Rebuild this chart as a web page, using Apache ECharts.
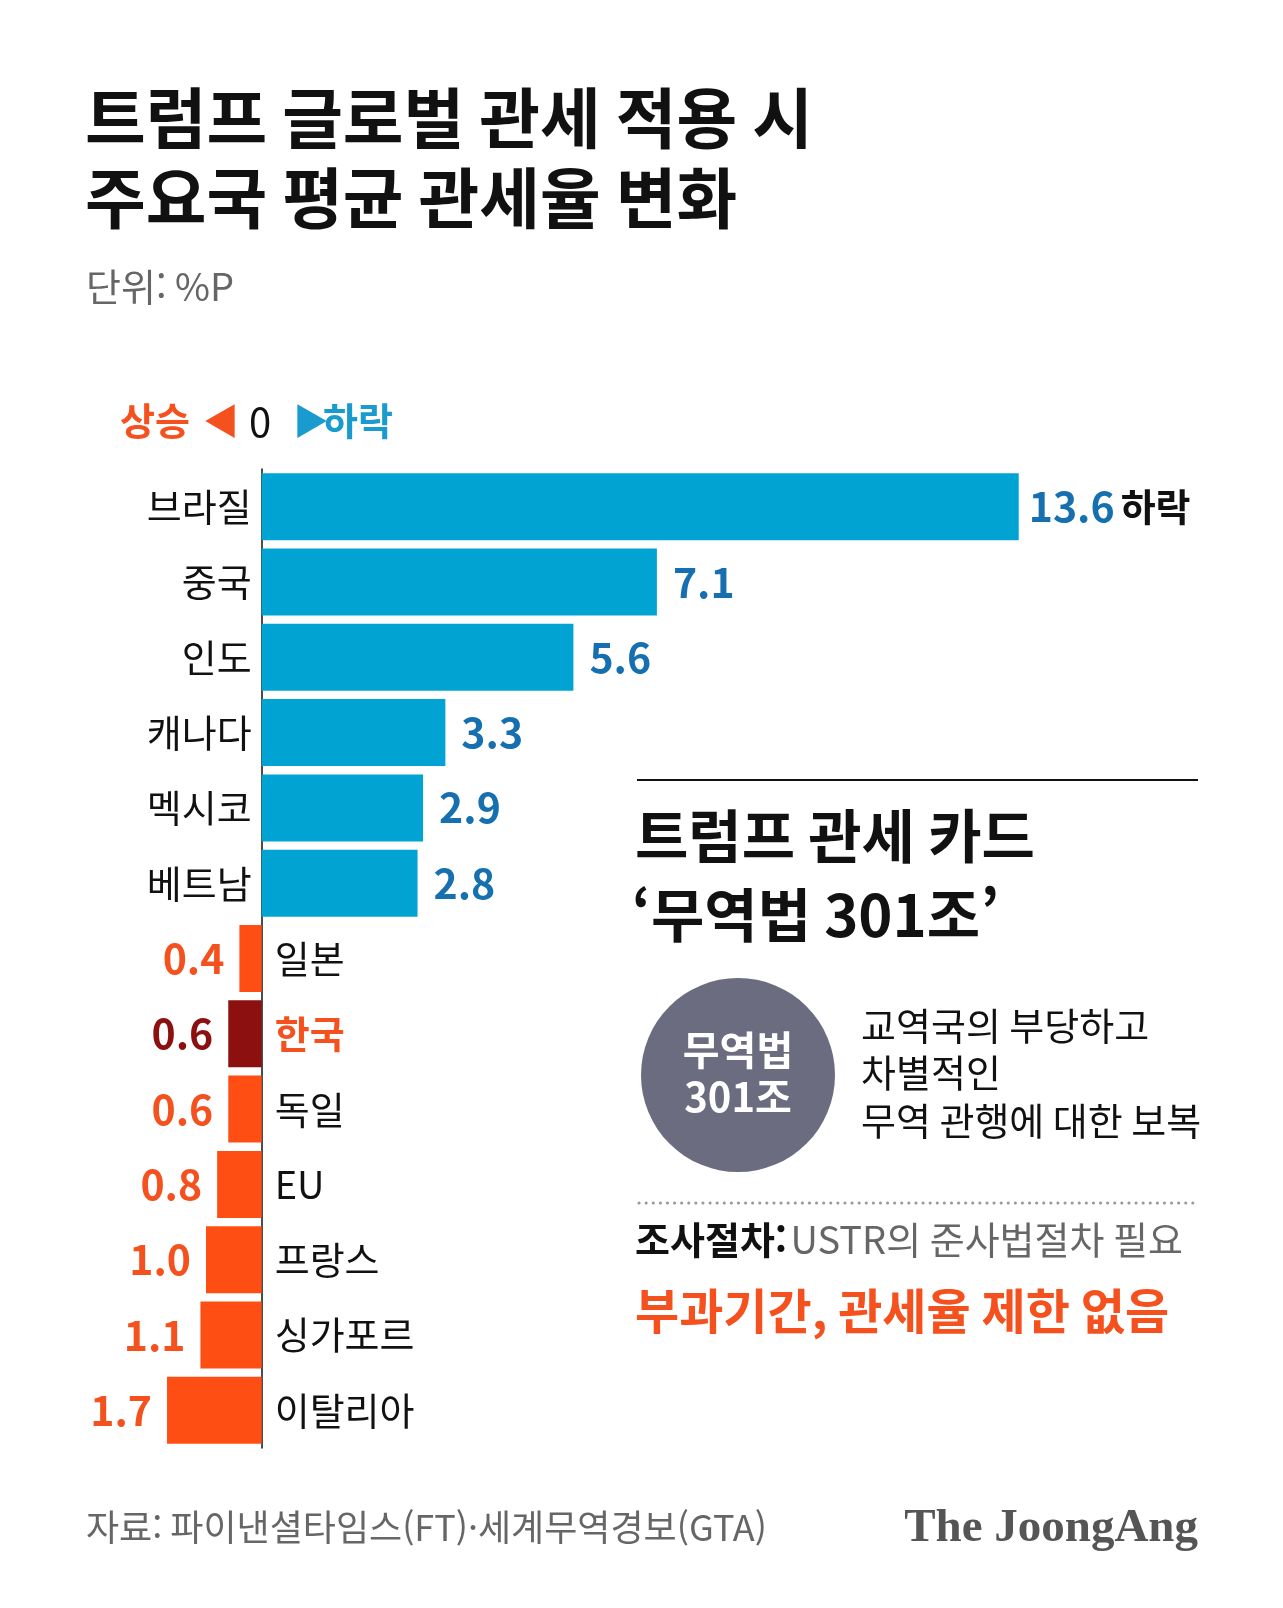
<!DOCTYPE html>
<html lang="ko">
<head>
<meta charset="UTF-8" />
<title>트럼프 글로벌 관세 적용 시 주요국 평균 관세율 변화</title>
<script src="https://cdn.jsdelivr.net/npm/echarts@6/dist/echarts.min.js"></script>
<style>
html, body { margin: 0; padding: 0; background: #fff; }
#main { width: 1283px; height: 1608px; }
</style>
</head>
<body>
<div id="main"></div>
<script type="text/javascript">
// 단위: %P, 양수 = 하락, 음수 = 상승
var countries = ['브라질', '중국', '인도', '캐나다', '멕시코', '베트남', '일본', '한국', '독일', 'EU', '프랑스', '싱가포르', '이탈리아'];
var changes = [13.6, 7.1, 5.6, 3.3, 2.9, 2.8, -0.4, -0.6, -0.6, -0.8, -1.0, -1.1, -1.7];
var highlight = '한국';

var FONT = '"Noto Sans CJK KR", "Noto Sans", sans-serif';
var BLUE = '#00a3d2';
var BLUE_TXT = '#1670b0';
var ORANGE = '#ff4e14';
var ORANGE_TXT = '#f4511e';
var DARKRED = '#8c1010';

function barColor(i) {
  if (changes[i] > 0) return BLUE;
  if (countries[i] === highlight) return DARKRED;
  return ORANGE;
}

// 막대 + 수치 라벨
var barData = changes.map(function (v, i) {
  var lab;
  if (v > 0) {
    lab = { position: 'right', distance: 16, color: BLUE_TXT };
    if (i === 0) {
      lab.distance = 10;
      lab.formatter = '{v|13.6}{u|하락}';
    }
  } else {
    lab = { position: 'left', distance: 15, color: countries[i] === highlight ? DARKRED : ORANGE_TXT };
  }
  return { value: v, itemStyle: { color: barColor(i) }, label: lab };
});

// 나라 이름 라벨 (투명 막대에 붙임)
var nameData = changes.map(function (v, i) {
  return {
    value: v,
    label: {
      position: v > 0 ? 'left' : 'right',
      distance: v > 0 ? 10 : 13,
      color: countries[i] === highlight ? ORANGE_TXT : '#111',
      fontWeight: countries[i] === highlight ? 'bold' : 'normal'
    }
  };
});

function txt(x, y, text, font, fill, align) {
  return {
    type: 'text', x: x, y: y,
    style: { text: text, font: font, fill: fill, textAlign: align || 'left', textVerticalAlign: 'middle' }
  };
}

var myChart = echarts.init(document.getElementById('main'));

var option = {
  backgroundColor: '#fff',
  animation: false,
  grid: { left: 39, right: 242, top: 469, height: 979 },
  xAxis: {
    type: 'value',
    min: -4,
    max: 14,
    show: false
  },
  yAxis: {
    type: 'category',
    data: countries,
    inverse: true,
    axisLine: { onZero: true, lineStyle: { color: '#111', width: 1.5 } },
    axisTick: { show: false },
    axisLabel: { show: false },
    splitLine: { show: false }
  },
  series: [
    {
      type: 'bar',
      data: barData,
      barWidth: 67,
      z: 3,
      label: {
        show: true,
        fontFamily: FONT,
        fontSize: 41,
        fontWeight: 'bold',
        formatter: function (p) { return Math.abs(p.value).toFixed(1); },
        rich: {
          v: { fontFamily: FONT, fontSize: 41, fontWeight: 'bold', color: BLUE_TXT },
          u: { fontFamily: FONT, fontSize: 38, color: '#111', padding: [0, 0, 0, 6] }
        }
      }
    },
    {
      type: 'bar',
      data: nameData,
      barWidth: 67,
      barGap: '-100%',
      silent: true,
      z: 2,
      itemStyle: { color: 'rgba(0,0,0,0)' },
      label: {
        show: true,
        fontFamily: FONT,
        fontSize: 38,
        formatter: '{b}'
      }
    }
  ],
  graphic: [
    // 제목
    txt(85, 118, '트럼프 글로벌 관세 적용 시', 'bold 66px ' + FONT, '#111'),
    txt(85, 198, '주요국 평균 관세율 변화', 'bold 66px ' + FONT, '#111'),
    txt(86, 287, '단위: %P', '38px ' + FONT, '#666'),
    // 범례
    txt(120, 421, '상승', 'bold 38px ' + FONT, ORANGE_TXT),
    txt(203, 421, '◀', '36px ' + FONT, ORANGE_TXT),
    txt(249, 422, '0', '40px ' + FONT, '#111'),
    txt(293, 421, '▶', '36px ' + FONT, '#1a9bd0'),
    txt(323, 421, '하락', 'bold 38px ' + FONT, '#1a9bd0'),
    // 오른쪽 설명 박스
    { type: 'line', shape: { x1: 637, y1: 780, x2: 1198, y2: 780 }, style: { stroke: '#111', lineWidth: 2 } },
    txt(635, 836, '트럼프 관세 카드', 'bold 58px ' + FONT, '#111'),
    txt(632, 915, '‘무역법 301조’', 'bold 58px ' + FONT, '#111'),
    { type: 'circle', shape: { cx: 738, cy: 1075, r: 97 }, style: { fill: '#6b6c7f' } },
    txt(738, 1050, '무역법', 'bold 40px ' + FONT, '#fff', 'center'),
    txt(738, 1097, '301조', 'bold 40px ' + FONT, '#fff', 'center'),
    txt(861, 1026, '교역국의 부당하고', '38px ' + FONT, '#111'),
    txt(861, 1073, '차별적인', '38px ' + FONT, '#111'),
    txt(861, 1121, '무역 관행에 대한 보복', '38px ' + FONT, '#111'),
    { type: 'line', shape: { x1: 639, y1: 1203, x2: 1198, y2: 1203 }, style: { stroke: '#999', lineWidth: 3, lineDash: [0.1, 7], lineCap: 'round' } },
    {
      type: 'text', x: 635, y: 1240,
      style: {
        text: '{a|조사절차:} {b|USTR의 준사법절차 필요}',
        textVerticalAlign: 'middle',
        rich: {
          a: { font: 'bold 38px ' + FONT, fill: '#111' },
          b: { font: '38px ' + FONT, fill: '#666' }
        }
      }
    },
    txt(635, 1311, '부과기간, 관세율 제한 없음', 'bold 48px ' + FONT, ORANGE_TXT),
    // 출처
    txt(86, 1527, '자료: 파이낸셜타임스(FT)·세계무역경보(GTA)', '36px ' + FONT, '#666'),
    txt(1198, 1529, 'The JoongAng', 'bold 47px "Liberation Serif", "DejaVu Serif", serif', '#555', 'right')
  ]
};

myChart.setOption(option);
</script>
</body>
</html>
